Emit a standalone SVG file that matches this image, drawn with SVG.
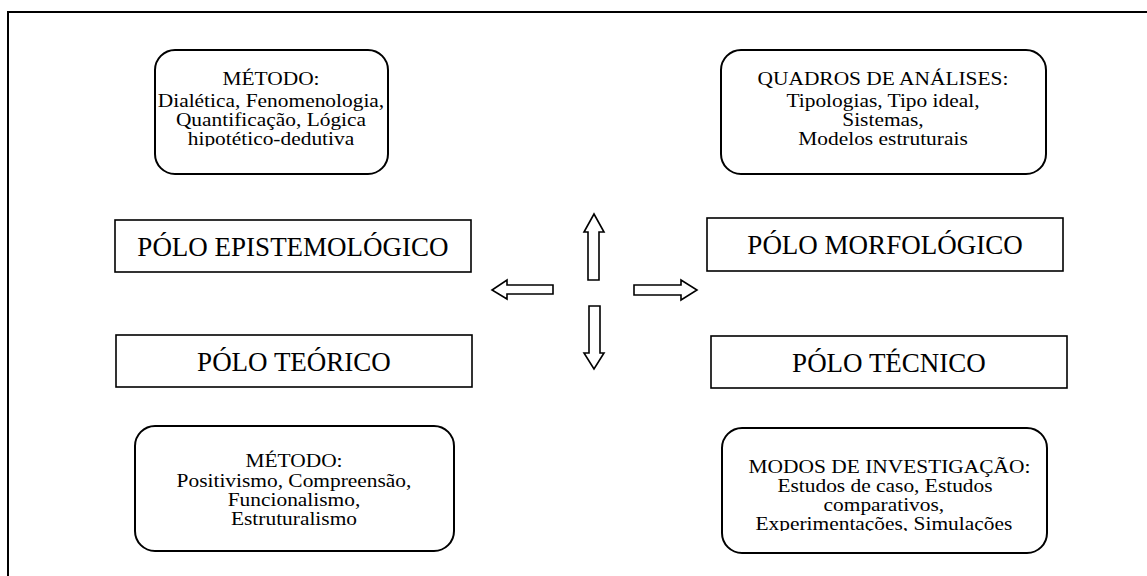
<svg xmlns="http://www.w3.org/2000/svg" width="1147" height="576" viewBox="0 0 1147 576">
<style>
text{font-family:"Liberation Serif","Times New Roman",serif;fill:#000;text-anchor:middle}
.sm{font-size:19px}
.lg{font-size:27px}
.rbox{fill:#fff;stroke:#000;stroke-width:2}
.box{fill:#fff;stroke:#000;stroke-width:1.6}
.arr{fill:#fff;stroke:#000;stroke-width:1.6;stroke-linejoin:miter}
</style>
<defs>
<clipPath id="c1"><rect x="150" y="45" width="245" height="101.5"/></clipPath>
<clipPath id="c2"><rect x="715" y="420" width="340" height="111"/></clipPath>
</defs>
<rect x="8" y="12" width="1160" height="600" fill="none" stroke="#000" stroke-width="2"/>
<g id="metodo-epist">
<rect class="rbox" x="155" y="50" width="233" height="124" rx="20"/>
<g clip-path="url(#c1)">
<g class="sm" transform="matrix(1.127,0,0,1,-34.42,0)">
<text x="271" y="85.5">MÉTODO:</text>
<text x="271" y="107">Dialética, Fenomenologia,</text>
<text x="271" y="126">Quantificação, Lógica</text>
<text x="271" y="145">hipotético-dedutiva</text>
</g>
</g>
</g>
<g id="quadros">
<rect class="rbox" x="721" y="50" width="325" height="124" rx="20"/>
<g class="sm" transform="matrix(1.127,0,0,1,-112.14,0)">
<text x="883" y="85.5">QUADROS DE ANÁLISES:</text>
<text x="883" y="107">Tipologias, Tipo ideal,</text>
<text x="883" y="126">Sistemas,</text>
<text x="883" y="145">Modelos estruturais</text>
</g>
</g>
<g id="polo-epist">
<rect class="box" x="115" y="220" width="356" height="52"/>
<text class="lg" x="293" y="256">PÓLO EPISTEMOLÓGICO</text>
</g>
<g id="polo-morf">
<rect class="box" x="707" y="218" width="356" height="53"/>
<text class="lg" x="885" y="254">PÓLO MORFOLÓGICO</text>
</g>
<g id="polo-teor">
<rect class="box" x="116" y="335" width="356" height="52"/>
<text class="lg" x="294" y="371">PÓLO TEÓRICO</text>
</g>
<g id="polo-tec">
<rect class="box" x="711" y="336" width="356" height="52"/>
<text class="lg" x="889" y="372">PÓLO TÉCNICO</text>
</g>
<g id="metodo-teor">
<rect class="rbox" x="135" y="426" width="319" height="125" rx="20"/>
<g class="sm" transform="matrix(1.127,0,0,1,-37.34,0)">
<text x="294" y="467.5">MÉTODO:</text>
<text x="294" y="487">Positivismo, Compreensão,</text>
<text x="294" y="506">Funcionalismo,</text>
<text x="294" y="525">Estruturalismo</text>
</g>
</g>
<g id="modos">
<rect class="rbox" x="722" y="428" width="325" height="125" rx="20"/>
<g clip-path="url(#c2)">
<g class="sm" transform="matrix(1.127,0,0,1,-112.4,0)">
<text x="889" y="473.5">MODOS DE INVESTIGAÇÃO:</text>
<text x="885" y="492">Estudos de caso, Estudos</text>
<text x="884" y="511">comparativos,</text>
<text x="884" y="530">Experimentações, Simulações</text>
</g>
</g>
</g>
<g id="connectors">
<polygon class="arr" points="588,280 588,232 584,232 594,214 604,232 599,232 599,280"/>
<polygon class="arr" points="589,306 600,306 600,353 604,353 594,369 584,353 589,353"/>
<polygon class="arr" points="553,285 507,285 507,280 492,290 507,299 507,294 553,294"/>
<polygon class="arr" points="634,285 681,285 681,280 697,290 681,300 681,295 634,295"/>
</g>
</svg>
